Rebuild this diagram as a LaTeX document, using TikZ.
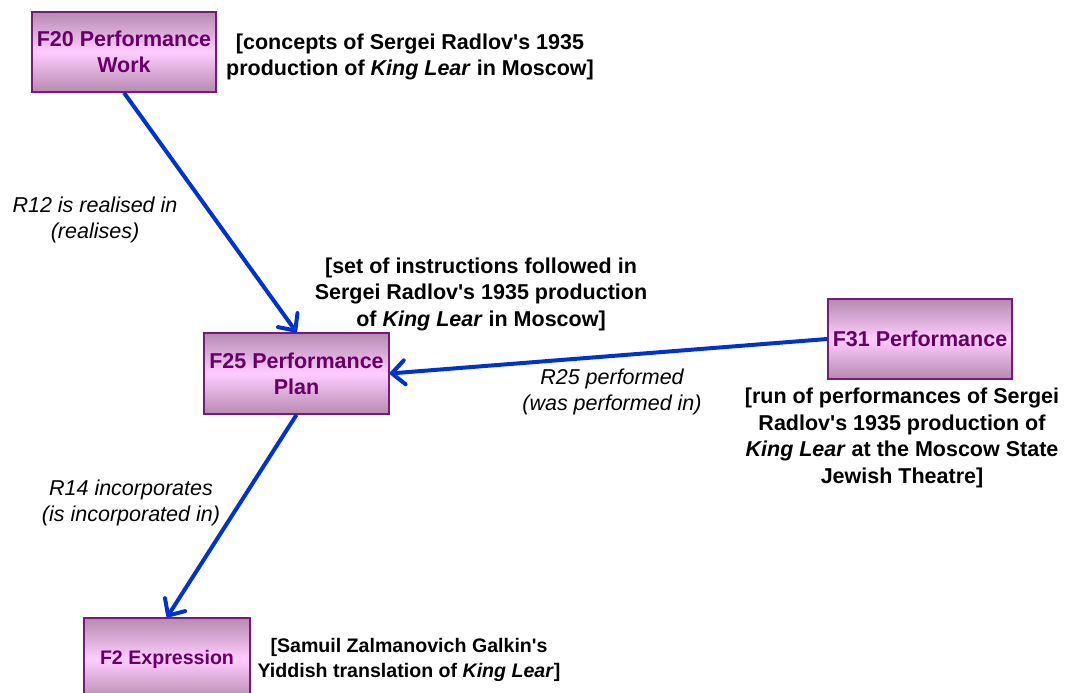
\documentclass[tikz,border=0pt]{standalone}
\usepackage{fontspec}
\newfontfamily\arialf{Liberation Sans}
\setmainfont{Liberation Sans}
\usetikzlibrary{arrows.meta}
\definecolor{boxedge}{HTML}{7A1A78}
\definecolor{boxtext}{HTML}{660066}
\definecolor{boxdark}{HTML}{B68AB0}
\definecolor{boxlight}{HTML}{FFCCFF}
\definecolor{relblue}{HTML}{0033CC}
\tikzset{
  classbox/.style={rectangle, draw=boxedge, line width=1.5pt, minimum width=184pt, minimum height=80pt,
    top color=boxdark, bottom color=boxdark, middle color=boxlight, text=boxtext,
    font=\arialf\fontsize{21.5pt}{26pt}\selectfont\bfseries, align=center, inner sep=2pt},
  note/.style={font=\arialf\fontsize{21.5pt}{26.5pt}\selectfont\bfseries, align=center, inner sep=0pt},
  smallfont/.style={font=\arialf\fontsize{19.6pt}{25pt}\selectfont\bfseries},
  rel/.style={font=\arialf\fontsize{21.5pt}{26.5pt}\selectfont\itshape, align=center, inner sep=0pt},
  relarrow/.style={draw=relblue, line width=4pt, -{Straight Barb[length=13pt,width=24pt,round]}}
}
\begin{document}
\begin{tikzpicture}[x=1pt,y=-1pt]
\useasboundingbox (0,0) rectangle (1066,693);
\node[classbox] (f20) at (124,52) {F20 Performance\\Work};
\node[classbox, minimum width=185pt, minimum height=81pt] (f25) at (296.5,373.5) {F25 Performance\\Plan};
\node[classbox] (f31) at (920,339) {F31 Performance};
\node[classbox, smallfont, minimum width=166pt, minimum height=82pt] (f2) at (167,659) {F2 Expression};

\node[note] (n20) at (410,57) {[concepts of Sergei Radlov's 1935\\production of \textit{King Lear} in Moscow]};
\node[note] (n25) at (481,294) {[set of instructions followed in\\Sergei Radlov's 1935 production\\of \textit{King Lear} in Moscow]};
\node[note] (n31) at (902,438) {[run of performances of Sergei\\Radlov's 1935 production of\\\textit{King Lear} at the Moscow State\\Jewish Theatre]};
\node[note, smallfont] (n2) at (409,660) {[Samuil Zalmanovich Galkin's\\Yiddish translation of \textit{King Lear}]};

\draw[relarrow] (f20.south) -- (f25.north);
\draw[relarrow] (f31.west) -- (f25.east);
\draw[relarrow] (f25.south) -- (f2.north);

\node[rel] (r12) at (95,220) {R12 is realised in\\(realises)};
\node[rel] (r25) at (612,392) {R25 performed\\(was performed in)};
\node[rel] (r14) at (131,503) {R14 incorporates\\(is incorporated in)};
\end{tikzpicture}
\end{document}
